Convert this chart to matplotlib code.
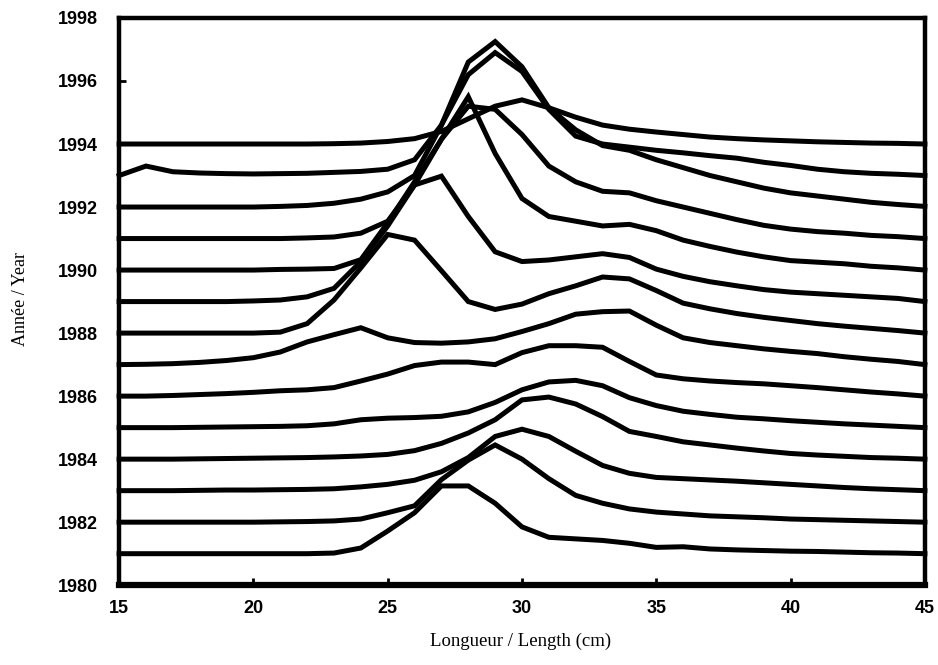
import numpy as np
from matplotlib import pyplot as plt

# length classes (cm)
lengths = list(range(15, 46))
years = [1981, 1982, 1983, 1984, 1985, 1986, 1987,
         1988, 1989, 1990, 1991, 1992, 1993, 1994]

# relative frequency per length class (height above the year line)
f1981 = [0, 0, 0, 0, 0, 0, 0, 0, 0.02, 0.18, 0.72, 1.3, 2.15, 2.15, 1.6, 0.85,
         0.52, 0.47, 0.42, 0.33, 0.2, 0.22, 0.15, 0.12, 0.1, 0.08, 0.07, 0.05, 0.03, 0.02, 0]
f1982 = [0, 0, 0, 0, 0, 0, 0.01, 0.02, 0.04, 0.1, 0.3, 0.52, 1.35, 1.97, 2.45, 2.0,
         1.38, 0.85, 0.6, 0.42, 0.32, 0.26, 0.2, 0.17, 0.14, 0.1, 0.08, 0.06, 0.04, 0.02, 0]
f1983 = [0, 0, 0, 0.01, 0.02, 0.02, 0.03, 0.04, 0.06, 0.12, 0.2, 0.33, 0.6, 1.05, 1.72, 1.95,
         1.72, 1.25, 0.8, 0.55, 0.42, 0.38, 0.34, 0.3, 0.25, 0.2, 0.15, 0.1, 0.06, 0.03, 0]
f1984 = [0, 0, 0, 0.01, 0.02, 0.03, 0.04, 0.05, 0.07, 0.1, 0.15, 0.27, 0.5, 0.83, 1.25, 1.88,
         1.97, 1.75, 1.35, 0.88, 0.72, 0.55, 0.45, 0.35, 0.26, 0.18, 0.13, 0.09, 0.05, 0.03, 0]
f1985 = [0, 0, 0, 0.01, 0.02, 0.03, 0.04, 0.06, 0.12, 0.25, 0.3, 0.32, 0.36, 0.5, 0.8, 1.2,
         1.45, 1.5, 1.33, 0.95, 0.7, 0.52, 0.42, 0.33, 0.28, 0.22, 0.17, 0.12, 0.08, 0.04, 0]
f1986 = [0, 0, 0.02, 0.05, 0.08, 0.12, 0.17, 0.2, 0.27, 0.48, 0.7, 0.97, 1.08, 1.08, 1.0, 1.38,
         1.6, 1.6, 1.55, 1.1, 0.67, 0.55, 0.48, 0.43, 0.39, 0.33, 0.27, 0.2, 0.13, 0.07, 0]
f1987 = [0, 0.01, 0.03, 0.07, 0.13, 0.22, 0.4, 0.72, 0.95, 1.17, 0.85, 0.7, 0.68, 0.72, 0.82, 1.05,
         1.3, 1.6, 1.68, 1.7, 1.25, 0.85, 0.7, 0.6, 0.5, 0.42, 0.35, 0.25, 0.17, 0.1, 0]
f1988 = [0, 0, 0, 0, 0, 0, 0.03, 0.3, 1.05, 2.07, 3.13, 2.95, 1.98, 1.0, 0.75, 0.92,
         1.25, 1.5, 1.78, 1.72, 1.35, 0.95, 0.77, 0.62, 0.5, 0.4, 0.3, 0.22, 0.15, 0.08, 0]
f1989 = [0, 0, 0, 0, 0, 0.02, 0.05, 0.15, 0.42, 1.27, 2.4, 3.7, 3.98, 2.7, 1.58, 1.27,
         1.32, 1.42, 1.52, 1.4, 1.03, 0.8, 0.63, 0.5, 0.38, 0.3, 0.25, 0.2, 0.15, 0.1, 0]
f1990 = [0, 0, 0, 0, 0, 0, 0.02, 0.03, 0.05, 0.33, 1.5, 2.8, 4.15, 5.5, 3.7, 2.27,
         1.7, 1.55, 1.4, 1.45, 1.25, 0.95, 0.75, 0.57, 0.42, 0.3, 0.25, 0.2, 0.12, 0.07, 0]
f1991 = [0, 0, 0, 0, 0, 0, 0, 0.02, 0.05, 0.17, 0.55, 1.7, 3.15, 4.2, 4.1, 3.3,
         2.3, 1.8, 1.5, 1.45, 1.2, 1.0, 0.8, 0.6, 0.42, 0.3, 0.22, 0.17, 0.1, 0.06, 0]
f1992 = [0, 0, 0, 0, 0, 0, 0.02, 0.05, 0.12, 0.25, 0.48, 1.0, 2.6, 4.6, 5.25, 4.45,
         3.15, 2.45, 1.95, 1.8, 1.5, 1.25, 1.0, 0.8, 0.6, 0.45, 0.35, 0.25, 0.15, 0.08, 0.02]
f1993 = [0, 0.3, 0.12, 0.08, 0.06, 0.05, 0.06, 0.07, 0.1, 0.13, 0.2, 0.5, 1.6, 3.2, 3.9, 3.3,
         2.1, 1.25, 1.0, 0.9, 0.8, 0.72, 0.63, 0.55, 0.42, 0.32, 0.2, 0.12, 0.07, 0.04, 0]
f1994 = [0, 0, 0, 0, 0, 0, 0, 0, 0.01, 0.03, 0.08, 0.17, 0.4, 0.8, 1.2, 1.4,
         1.15, 0.85, 0.6, 0.47, 0.38, 0.3, 0.22, 0.17, 0.13, 0.1, 0.07, 0.05, 0.03, 0.02, 0]

freqs = [f1981, f1982, f1983, f1984, f1985, f1986, f1987,
         f1988, f1989, f1990, f1991, f1992, f1993, f1994]

fig = plt.figure(figsize=(9.38, 6.65), dpi=100)
ax = fig.add_axes([0.127, 0.12, 0.859, 0.853])

for yr, f in zip(years, freqs):
    ax.plot(lengths, yr + np.array(f), color="black", lw=3.6,
            solid_joinstyle="miter", clip_on=False, zorder=3)

ax.set_xlim(15, 45)
ax.set_ylim(1980, 1998)
ax.set_xticks(range(15, 46, 5))
ax.set_yticks(range(1980, 1999, 2))

for side in ["top", "left", "right"]:
    ax.spines[side].set_linewidth(3.2)
ax.spines["bottom"].set_linewidth(4.5)

ax.tick_params(direction="in", length=5, width=2, labelsize=13)
ax.tick_params(axis="y", pad=15)
ax.tick_params(axis="x", pad=11)
for lab in ax.get_xticklabels() + ax.get_yticklabels():
    lab.set_fontfamily("Liberation Sans")
    lab.set_fontweight("bold")

fig.text(0.555, 0.036, "Longueur / Length (cm)", family="Liberation Serif",
         fontsize=13.5, ha="center", va="center")
fig.text(0.022, 0.55, "Année / Year", family="Liberation Serif",
         fontsize=13, rotation=90, ha="center", va="center")

fig.savefig("out.png", dpi=100)
